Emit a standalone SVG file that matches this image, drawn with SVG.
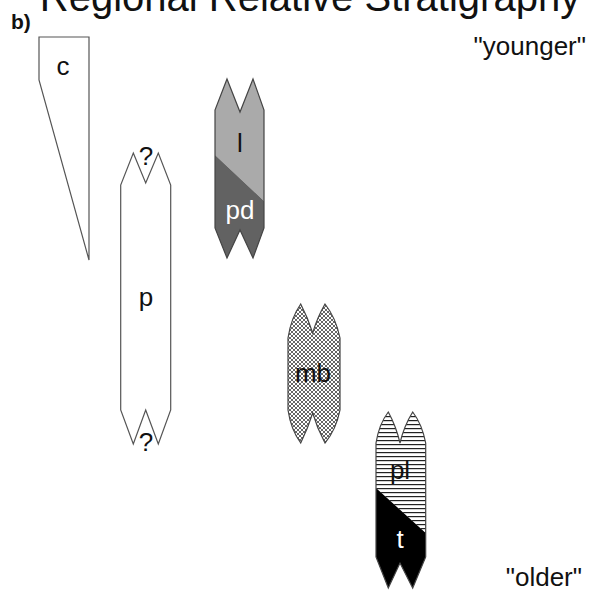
<svg xmlns="http://www.w3.org/2000/svg" width="595" height="595" viewBox="0 0 595 595">
<style>
text{font-family:"Liberation Sans",Arial,sans-serif;fill:#111}
.lbl{font-size:26px;text-anchor:middle}
.wht{fill:#fff}
.edge{fill:none;stroke:#444;stroke-width:1.2}
</style>
<defs>
<pattern id="hatch" width="4" height="4" patternUnits="userSpaceOnUse">
<rect width="4" height="4" fill="#fff"/>
<path d="M0,0 L4,4 M4,0 L0,4" stroke="#555" stroke-width="0.9"/>
</pattern>
<pattern id="stripes" width="4" height="4" patternUnits="userSpaceOnUse">
<rect width="4" height="4" fill="#fff"/>
<rect y="0" width="4" height="1.2" fill="#222"/>
</pattern>
</defs>
<rect width="595" height="595" fill="#fff"/>
<text x="310" y="11" style="font-size:40px;text-anchor:middle">Regional Relative Stratigraphy</text>
<text x="11" y="28.5" style="font-size:21px;font-weight:bold">b)</text>
<text x="586" y="55" style="font-size:26px;text-anchor:end">"younger"</text>
<text x="582" y="586" style="font-size:26px;text-anchor:end">"older"</text>

<g id="node-c">
<polygon points="39,37 89,37 89,260 39,80" fill="#fff" stroke="#555" stroke-width="1.2"/>
<text class="lbl" x="63" y="75">c</text>
</g>

<g id="node-p">
<polygon points="133.3,153 145.7,183 158.3,153 170.7,185 170.7,410 158.3,444 145.7,410 133.3,444 120.7,410 120.7,185" fill="#fff" stroke="#555" stroke-width="1.2"/>
<text class="lbl" x="146" y="165">?</text>
<text class="lbl" x="146" y="306">p</text>
<text class="lbl" x="146" y="451">?</text>
</g>

<g id="node-l-pd">
<polygon points="227,79 240,112 253,79 264,110 264,201 215,155 215,110" fill="#aaaaaa"/>
<polygon points="215,155 264,201 264,228 253,258 240,230 227,258 215,228" fill="#626262"/>
<path class="edge" d="M227,79 L240,112 L253,79 L264,110 L264,228 L253,258 L240,230 L227,258 L215,228 L215,110 Z"/>
<text class="lbl" x="240" y="152">l</text>
<text class="lbl wht" x="240" y="219">pd</text>
</g>

<g id="node-mb">
<path d="M288,338 Q291,318 300.7,304 Q308,318 312.7,333 Q317,318 325,304 Q336,318 340,338 L340,410 Q336,430 325,443 Q317,428 312.7,413 Q308,428 300.7,443 Q291,430 288,410 Z" fill="url(#hatch)" stroke="#444" stroke-width="1.2"/>
<text class="lbl" x="313" y="382">mb</text>
</g>

<g id="node-pl-t">
<path d="M376,443 Q379,424 388.3,412 Q396,426 400,443 Q404,426 412.7,412 Q422,424 425.7,443 L425.7,533 L376,488 Z" fill="url(#stripes)"/>
<polygon points="376,488 425.7,533 425.7,557 412.7,588 400,563 388.3,588 376,557" fill="#000"/>
<path class="edge" d="M376,443 Q379,424 388.3,412 Q396,426 400,443 Q404,426 412.7,412 Q422,424 425.7,443 L425.7,557 L412.7,588 L400,563 L388.3,588 L376,557 Z"/>
<text class="lbl" x="400" y="479">pl</text>
<text class="lbl wht" x="400" y="548">t</text>
</g>
</svg>
